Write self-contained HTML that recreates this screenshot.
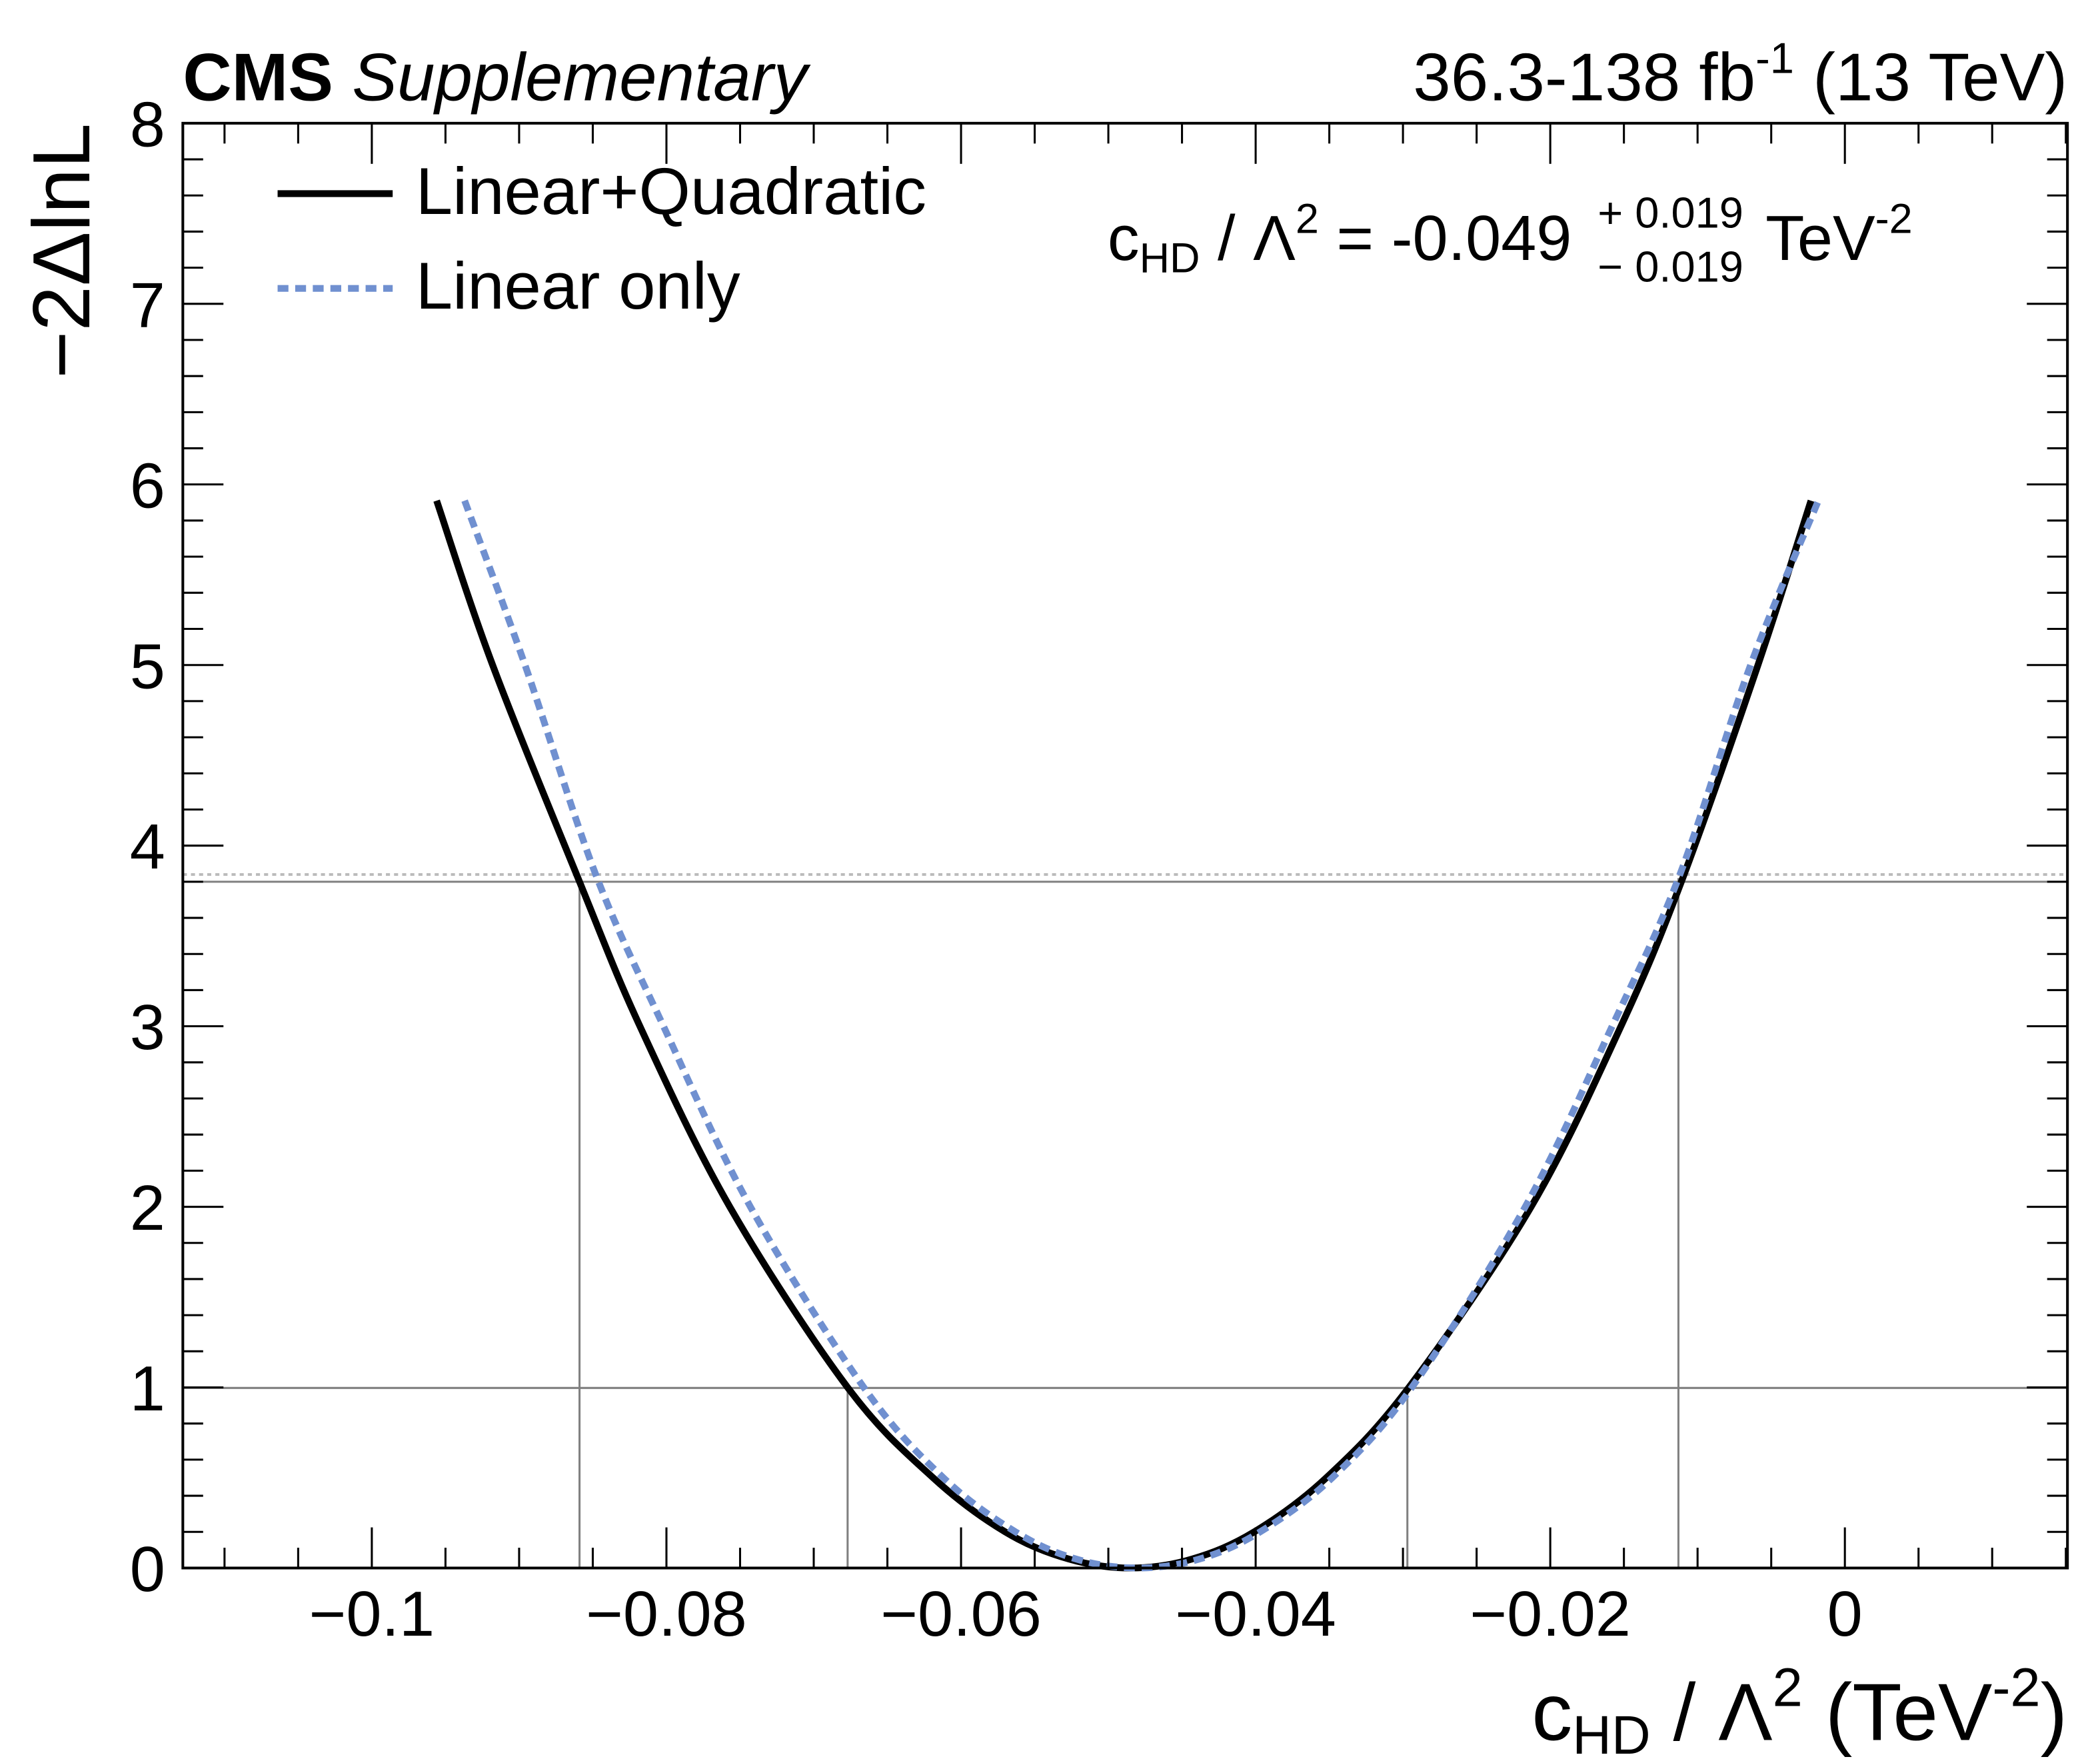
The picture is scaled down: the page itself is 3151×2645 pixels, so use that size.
<!DOCTYPE html>
<html><head><meta charset="utf-8"><style>
html,body{margin:0;padding:0;background:#fff}
svg{display:block}
text{font-family:"Liberation Sans",sans-serif}
</style></head><body>
<svg id="chart" width="3151" height="2645" viewBox="0 0 1551 1302" xmlns="http://www.w3.org/2000/svg">
<rect width="1551" height="1302" fill="#fff"/>
<g id="marks"></g>
<g id="axes"></g>
<rect x="135" y="91" width="1392" height="1067" fill="none" stroke="#000" stroke-width="2"/>
<text x="135" y="74" font-size="50" font-weight="bold">CMS <tspan font-weight="normal" font-style="italic">Supplementary</tspan></text>
<text x="1527" y="74" font-size="50" text-anchor="end">36.3-138 fb<tspan dy="-20" font-size="32">-1</tspan><tspan dy="20"> (13 TeV)</tspan></text>
<text transform="translate(66,91) rotate(-90)" font-size="60" text-anchor="end">−2ΔlnL</text>
<text x="1527" y="1285" font-size="60" text-anchor="end">c<tspan font-size="40" dy="10">HD</tspan><tspan dy="-10"> / Λ</tspan><tspan dy="-25" font-size="40">2</tspan><tspan dy="25"> (TeV</tspan><tspan dy="-25" font-size="40">-2</tspan><tspan dy="25">)</tspan></text>
<line x1="205" y1="143" x2="290" y2="143" stroke="#000" stroke-width="5"/>
<text x="307" y="158" font-size="49">Linear+Quadratic</text>
<line x1="205" y1="213" x2="290" y2="213" stroke="#7090d0" stroke-width="5" stroke-dasharray="8,5"/>
<text x="307" y="228" font-size="49">Linear only</text>
<text x="818" y="192" font-size="47">c<tspan font-size="31" dy="9">HD</tspan><tspan dy="-9"> / Λ</tspan><tspan dy="-20" font-size="31">2</tspan><tspan dy="20"> = -0.049</tspan></text>
<text x="1180" y="168" font-size="32">+ 0.019</text>
<text x="1180" y="208" font-size="32">− 0.019</text>
<text x="1304" y="192" font-size="47">TeV<tspan dy="-20" font-size="31">-2</tspan></text>
</svg>
<script>
const quadX=[-0.0956,-0.0918,-0.0859,-0.0818,-0.0757,-0.0677,-0.0619,-0.057,-0.0527,-0.0485,-0.0443,-0.0401,-0.0352,-0.0296,-0.0213,-0.0152,-0.0111,-0.0059,-0.0023];
const quadY=[5.91,5.0,3.8,3.0,2.0,1.0,0.5,0.2,0.05,0,0.05,0.2,0.5,1.0,2.0,3.0,3.8,5.0,5.91];
const linX=[-0.0937,-0.0896,-0.0848,-0.0802,-0.0743,-0.0666,-0.0612,-0.0563,-0.0522,-0.048,-0.0438,-0.0397,-0.0348,-0.0294,-0.0217,-0.0158,-0.0112,-0.0064,-0.0018];
const linY=[5.91,5.0,3.84,3.0,2.0,1.0,0.5,0.2,0.05,0,0.05,0.2,0.5,1.0,2.0,3.0,3.84,5.0,5.91];
const xTicks=[-0.1,-0.08,-0.06,-0.04,-0.02,0];
const xTickLabels=["−0.1","−0.08","−0.06","−0.04","−0.02","0"];
const yTicks=[0,1,2,3,4,5,6,7,8];
const crossX=[-0.0859,-0.0677,-0.0297,-0.0113];
const crossY=[3.79,0.997,0.997,3.82];
const levels=[0.997,3.80];
const xMin=-0.11283,xMax=0.01511,yMin=0,yMax=8;
const L=135,R=1527,T=91,B=1158;
function sx(v){return L+(v-xMin)/(xMax-xMin)*(R-L);}
function sy(v){return B-(v-yMin)/(yMax-yMin)*(B-T);}
const NS="http://www.w3.org/2000/svg";
const marks=document.getElementById('marks'),axes=document.getElementById('axes');
function mk(tag,attrs,parent){const e=document.createElementNS(NS,tag);for(const k in attrs)e.setAttribute(k,attrs[k]);parent.appendChild(e);return e;}
function smooth(xs,ys){const p=xs.map((x,i)=>[sx(x),sy(ys[i])]);let d="M"+p[0][0]+","+p[0][1];
for(let i=0;i<p.length-1;i++){const p0=p[Math.max(0,i-1)],p1=p[i],p2=p[i+1],p3=p[Math.min(p.length-1,i+2)];
d+=" C"+(p1[0]+(p2[0]-p0[0])/6)+","+(p1[1]+(p2[1]-p0[1])/6)+" "+(p2[0]-(p3[0]-p1[0])/6)+","+(p2[1]-(p3[1]-p1[1])/6)+" "+p2[0]+","+p2[1];}return d;}
let dl=mk('line',{x1:L,x2:R,y1:sy(3.84),y2:sy(3.84),stroke:'#bbb','stroke-width':2,'stroke-dasharray':'3,3'},marks);


levels.forEach((lv,i)=>{const l=mk('line',{x1:L,x2:R,y1:sy(lv),y2:sy(lv),stroke:'#808080','stroke-width':1.5},marks);

});
crossX.forEach((cx,i)=>{const l=mk('line',{x1:sx(cx),x2:sx(cx),y1:B,y2:sy(crossY[i]),stroke:'#808080','stroke-width':1.5},marks);

});
const q=mk('path',{d:smooth(quadX,quadY),fill:'none',stroke:'#000','stroke-width':5},marks);


const lc=mk('path',{d:smooth(linX,linY),fill:'none',stroke:'#7090d0','stroke-width':5,'stroke-dasharray':'8,5'},marks);


for(let k=-22;k<=3;k++){const v=k*0.005;const major=(k%4===0);const len=major?30:15;const X=sx(v);
if(X<L||X>R)continue;
mk('line',{x1:X,x2:X,y1:B,y2:B-len,stroke:'#000','stroke-width':1.5},axes);
mk('line',{x1:X,x2:X,y1:T,y2:T+len,stroke:'#000','stroke-width':1.5},axes);}
xTicks.forEach((v,i)=>{const t=mk('text',{x:sx(v),y:1208,'font-size':47,'text-anchor':'middle'},axes);t.textContent=xTickLabels[i];

});
for(let k=0;k<=40;k++){const v=k*0.2;const major=k%5===0;const len=major?30:15;const Y=sy(v);
mk('line',{x1:L,x2:L+len,y1:Y,y2:Y,stroke:'#000','stroke-width':1.5},axes);
mk('line',{x1:R,x2:R-len,y1:Y,y2:Y,stroke:'#000','stroke-width':1.5},axes);}
yTicks.forEach(v=>{const t=mk('text',{x:122,y:sy(v)+17,'font-size':47,'text-anchor':'end'},axes);t.textContent=String(v);

});
</script>
</body></html>
